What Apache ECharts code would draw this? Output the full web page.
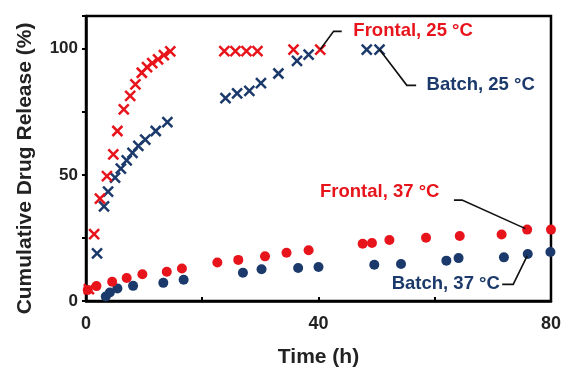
<!DOCTYPE html>
<html><head><meta charset="utf-8">
<script src="https://cdn.jsdelivr.net/npm/echarts@6/dist/echarts.min.js"></script>
<style>html,body{margin:0;padding:0;background:#fff}#c{width:564px;height:373px}</style>
</head><body><div id="c"></div>
<script>
var frontal25 = [[0.5,4.7],[1.4,26.5],[2.4,40.6],[3.6,49.5],[4.7,58.1],[5.4,67.4],[6.5,76.0],[7.6,81.3],[8.5,85.9],[9.6,90.5],[10.5,92.7],[11.4,94.3],[12.4,95.8],[13.4,97.5],[14.5,99.0],[23.8,99.1],[25.7,99.1],[27.6,99.1],[29.5,99.1],[35.7,99.7],[40.3,99.7]];
var batch25 = [[1.9,18.9],[3.1,37.5],[3.8,43.4],[5.0,48.9],[6.0,52.5],[7.0,55.8],[8.0,58.7],[9.0,61.5],[10.2,64.0],[12.0,67.4],[14.0,70.9],[24.0,80.4],[26.0,82.3],[28.1,83.3],[30.1,86.4],[33.1,90.2],[36.3,95.2],[38.3,97.7],[48.3,99.7],[50.5,99.7]];
var frontal37 = [[0.3,4.4],[1.8,5.9],[4.5,7.6],[7.0,9.1],[9.7,10.6],[13.9,11.6],[16.5,12.9],[22.6,15.3],[26.2,16.3],[30.8,17.7],[34.5,19.1],[38.3,20.1],[47.6,22.7],[49.2,23.0],[52.2,24.2],[58.5,25.1],[64.3,25.8],[71.5,26.4],[75.9,28.3],[80.0,28.3]];
var batch37 = [[3.4,1.8],[4.1,3.4],[5.4,5.0],[8.1,6.0],[13.3,7.2],[16.8,8.4],[27.0,11.2],[30.2,12.6],[36.5,13.1],[40.0,13.5],[49.6,14.4],[54.2,14.7],[62.0,16.0],[64.1,17.0],[71.9,17.3],[76.0,18.6],[79.9,19.4]];
var xLabels = [0, 40, 80];
var yLabels = [0, 50, 100];
// annotation: text, text anchor (data), alignment, leader polyline (data)
var annotations = [
  {text:'Frontal, 25 °C', color:'#E8141C', at:[46.0,106.9], align:'left', line:[[40.3,99.7],[42.6,106.9],[44.0,106.9]]},
  {text:'Batch, 25 °C', color:'#1B3A6B', at:[58.6,85.5], align:'left', line:[[50.5,99.7],[55.2,85.5],[56.8,85.5]]},
  {text:'Frontal, 37 °C', color:'#E8141C', at:[60.8,43.2], align:'right', line:[[63.3,40.0],[64.7,40.0],[75.6,28.7]]},
  {text:'Batch, 37 °C', color:'#1B3A6B', at:[71.2,6.6], align:'right', line:[[71.6,6.6],[73.5,6.6],[75.9,17.9]]}
];
var RED = '#E8141C', BLUE = '#1B3A6B';
var FONT = 'Arial, "Liberation Sans", sans-serif';
var cross = 'path://M0,0L10,10M10,0L0,10';
var chart = echarts.init(document.getElementById('c'));
function crossSeries(name, data, color){
  return {name:name, type:'scatter', data:data, symbol:cross, symbolSize:10,
    itemStyle:{color:'rgba(0,0,0,0)', borderColor:color, borderWidth:2.5, opacity:1}};
}
function dotSeries(name, data, color){
  return {name:name, type:'scatter', data:data, symbol:'circle', symbolSize:10,
    itemStyle:{color:color, opacity:1}};
}
chart.setOption({
  animation:false,
  grid:{left:86, right:12, top:16, bottom:60, show:true, borderColor:'#000', borderWidth:2.5, backgroundColor:'#fff'},
  xAxis:{type:'value', min:0, max:80, interval:20,
    name:'Time (h)', nameLocation:'middle', nameGap:46,
    nameTextStyle:{fontFamily:FONT, fontWeight:'bold', fontSize:21, color:'#222'},
    axisLine:{show:true, lineStyle:{color:'#000', width:2.5}},
    axisTick:{show:true, inside:true, length:4, lineStyle:{color:'#000', width:2}},
    splitLine:{show:false},
    axisLabel:{margin:14, fontFamily:FONT, fontWeight:'bold', fontSize:18, color:'#222',
      formatter:function(v){return xLabels.indexOf(v)>=0 ? String(v) : '';}}},
  yAxis:{type:'value', min:0, max:113, interval:25,
    name:'Cumulative Drug Release (%)', nameLocation:'middle', nameGap:50,
    nameTextStyle:{fontFamily:FONT, fontWeight:'bold', fontSize:21, color:'#222', padding:[0,20,0,0]},
    axisLine:{show:true, lineStyle:{color:'#000', width:2.5}},
    axisTick:{show:true, inside:false, length:4, lineStyle:{color:'#000', width:2}},
    splitLine:{show:false},
    axisLabel:{margin:8, fontFamily:FONT, fontWeight:'bold', fontSize:17, color:'#222',
      formatter:function(v){return yLabels.indexOf(v)>=0 ? String(v) : '';}}},
  series:[
    crossSeries('Batch, 25 °C', batch25, BLUE),
    crossSeries('Frontal, 25 °C', frontal25, RED),
    dotSeries('Batch, 37 °C', batch37, BLUE),
    dotSeries('Frontal, 37 °C', frontal37, RED)
  ]
});
var g = [];
annotations.forEach(function(a){
  var pts = a.line.map(function(p){return chart.convertToPixel({gridIndex:0}, p);});
  g.push({type:'polyline', shape:{points:pts}, style:{stroke:'#111', lineWidth:1.6, fill:null}, z:10});
  var t = chart.convertToPixel({gridIndex:0}, a.at);
  g.push({type:'text', x:t[0], y:t[1], z:11, style:{text:a.text, fill:a.color, font:'bold 18.5px ' + FONT, align:a.align, verticalAlign:'middle'}});
});
chart.setOption({graphic:g});
</script>
</body></html>
